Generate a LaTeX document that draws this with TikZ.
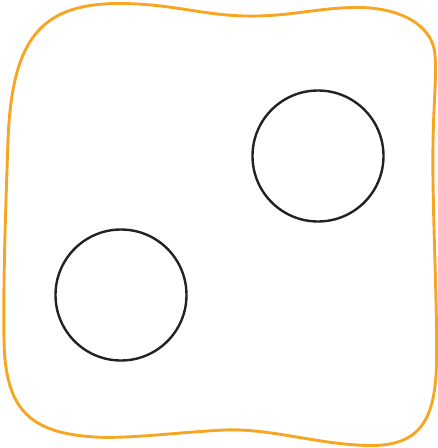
\documentclass[tikz,border=0pt]{standalone}
\definecolor{blobor}{RGB}{246,166,35}
\definecolor{ringk}{RGB}{34,34,34}
\begin{document}
\begin{tikzpicture}[x=1pt,y=-1pt,
  blob/.style={draw=blobor,line width=2.9pt},
  ring/.style={circle,draw=ringk,line width=2.4pt,minimum size=131pt,inner sep=0pt}]
\useasboundingbox (0,0) rectangle (438,448);
\draw[blob] (115,3.5)
  .. controls (170,3) and (200,15) .. (245,16)
  .. controls (290,17) and (320,7) .. (360,7.5)
  .. controls (400,8) and (433,25) .. (435,55)
  .. controls (437,85) and (432,110) .. (433,180)
  .. controls (434,250) and (437,300) .. (436.5,360)
  .. controls (436,420) and (420,446) .. (370,445.5)
  .. controls (320,445) and (270,428) .. (225,430)
  .. controls (180,432) and (130,439) .. (95,437)
  .. controls (30,433) and (5,410) .. (4,340)
  .. controls (3,280) and (6,200) .. (8,140)
  .. controls (12,40) and (40,5) .. cycle;
\node[ring] (c1) at (318,156) {};
\node[ring] (c2) at (121,295) {};
\end{tikzpicture}
\end{document}
